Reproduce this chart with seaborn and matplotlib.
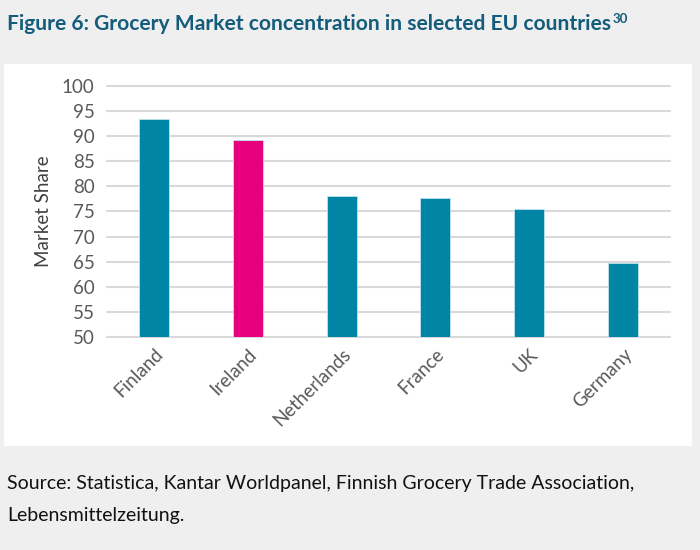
import matplotlib
matplotlib.use("Agg")
import matplotlib.pyplot as plt
import seaborn as sns
import pandas as pd
from matplotlib.patches import Rectangle

countries = ["Finland", "Ireland", "Netherlands", "France", "UK", "Germany"]
market_share = [93.4, 89.3, 78.0, 77.6, 75.4, 64.7]
highlight = ["other", "Ireland", "other", "other", "other", "other"]
y_ticks = [50, 55, 60, 65, 70, 75, 80, 85, 90, 95, 100]

df = pd.DataFrame({"country": countries, "share": market_share, "group": highlight})

sns.set_theme(style="white")
plt.rcParams["font.family"] = ["Lato", "DejaVu Sans"]

fig = plt.figure(figsize=(7, 5.5), dpi=100, facecolor="#efefef")
fig.add_artist(Rectangle((4 / 700, 1 - 446 / 550), 688 / 700, 382 / 550,
                         transform=fig.transFigure, facecolor="white",
                         edgecolor="none", zorder=-10))
ax = fig.add_axes([107 / 700, 1 - 337 / 550, 563 / 700, 251 / 550])
ax.set_facecolor("none")
ax.set_zorder(5)

sns.barplot(data=df, x="country", y="share", hue="group",
            palette={"other": "#0085a5", "Ireland": "#e6007e"},
            saturation=1, width=0.32, dodge=False, legend=False, ax=ax,
            edgecolor="#bfe3ee", linewidth=0.6, zorder=3)

ax.set_ylim(50, 100)
ax.set_xlim(-0.5, 5.5)
ax.set_yticks(y_ticks)
ax.yaxis.grid(True, color="#d9d9d9", linewidth=1.5, zorder=0)
ax.set_axisbelow(True)
for gl in ax.get_ygridlines():
    gl.set_clip_on(False)
for s in ax.spines.values():
    s.set_visible(False)
ax.tick_params(axis="both", length=0, labelsize=13.5, colors="#595959", pad=6)
ax.tick_params(axis="y", pad=9)
plt.setp(ax.get_xticklabels(), rotation=45, ha="right", rotation_mode="anchor")
ax.set_xlabel("")
ax.set_ylabel("Market Share", fontsize=13.5, color="#404040", labelpad=7)

title = fig.text(7 / 700, 1 - 24 / 550,
                 "Figure 6: Grocery Market concentration in selected EU countries",
                 fontsize=15.1, fontweight="bold", color="#135c7a", va="center", ha="left")
fig.add_artist(plt.Annotation("30", xy=(1, 0.45), xycoords=title,
                              xytext=(1.5, 0), textcoords="offset points",
                              fontsize=9.5, fontweight="bold", color="#135c7a",
                              va="bottom", ha="left"))
fig.text(7 / 700, 1 - 483 / 550,
         "Source: Statistica, Kantar Worldpanel, Finnish Grocery Trade Association,",
         fontsize=14, color="#111111", va="center", ha="left")
fig.text(7 / 700, 1 - 515 / 550, "Lebensmittelzeitung.",
         fontsize=14, color="#111111", va="center", ha="left")

fig.savefig("out.png", dpi=100, facecolor=fig.get_facecolor())
